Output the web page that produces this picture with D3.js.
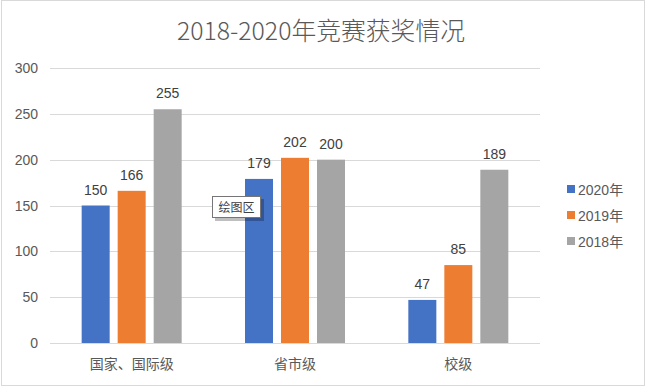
<!DOCTYPE html>
<html>
<head>
<meta charset="utf-8">
<script src="https://cdn.jsdelivr.net/npm/d3@7.9.0/dist/d3.min.js"></script>
<style>
  body { margin: 0; background: #fff; }
  svg { display: block; }
</style>
</head>
<body>
<svg id="chart" width="646" height="388"></svg>
<script>
// chart data
const categories = ['国家、国际级', '省市级', '校级'];
const seriesNames = ['2020年', '2019年', '2018年'];
const seriesColors = ['#4472C4', '#ED7D31', '#A5A5A5'];
const values2020 = [150, 179, 47];
const values2019 = [166, 202, 85];
const values2018 = [255, 200, 189];
const yTicks = [0, 50, 100, 150, 200, 250, 300];

const seriesValues = [values2020, values2019, values2018];

const svg = d3.select('#chart');
const W = 646, H = 388;
const plot = { left: 50, right: 540, top: 68, bottom: 343 };

// outer border
svg.append('rect')
  .attr('x', 1.5).attr('y', 0.5)
  .attr('width', W - 3).attr('height', H - 3)
  .attr('fill', '#fff')
  .attr('stroke', '#d9d9d9');

// title
svg.append('text')
  .attr('x', 321).attr('y', 40)
  .attr('text-anchor', 'middle')
  .attr('font-family', '"Noto Sans CJK SC", sans-serif')
  .attr('font-size', 24.8)
  .attr('font-weight', 300)
  .attr('fill', '#595959')
  .text('2018-2020年竞赛获奖情况');

const y = d3.scaleLinear().domain([0, 300]).range([plot.bottom, plot.top]);
const x = d3.scaleBand().domain(categories).range([plot.left, plot.right]).padding(0);
const xs = d3.scaleBand().domain(seriesNames).range([-50, 50]).paddingInner(8 / 36).paddingOuter(0);

// gridlines
svg.append('g')
  .selectAll('line')
  .data(yTicks)
  .join('line')
  .attr('x1', plot.left).attr('x2', plot.right)
  .attr('y1', d => Math.round(y(d)) + 0.5)
  .attr('y2', d => Math.round(y(d)) + 0.5)
  .attr('stroke', '#d9d9d9')
  .attr('stroke-width', 1);

// y tick labels
svg.append('g')
  .selectAll('text')
  .data(yTicks)
  .join('text')
  .attr('x', 38)
  .attr('y', d => y(d) + 5)
  .attr('text-anchor', 'end')
  .attr('font-family', '"Liberation Sans", Arial, sans-serif')
  .attr('font-size', 14)
  .attr('fill', '#595959')
  .text(d => d);

// bars + labels
seriesNames.forEach((name, si) => {
  const g = svg.append('g');
  g.selectAll('rect')
    .data(categories)
    .join('rect')
    .attr('x', c => x(c) + x.bandwidth() / 2 + xs(name))
    .attr('y', (c, i) => y(seriesValues[si][i]))
    .attr('width', xs.bandwidth())
    .attr('height', (c, i) => y(0) - y(seriesValues[si][i]))
    .attr('fill', seriesColors[si]);
  g.selectAll('text')
    .data(categories)
    .join('text')
    .attr('x', c => x(c) + x.bandwidth() / 2 + xs(name) + xs.bandwidth() / 2)
    .attr('y', (c, i) => y(seriesValues[si][i]) - 11)
    .attr('text-anchor', 'middle')
    .attr('font-family', '"Liberation Sans", Arial, sans-serif')
    .attr('font-size', 14)
    .attr('fill', '#404040')
    .text((c, i) => seriesValues[si][i]);
});

// category labels
svg.append('g')
  .selectAll('text')
  .data(categories)
  .join('text')
  .attr('x', c => x(c) + x.bandwidth() / 2)
  .attr('y', 369)
  .attr('text-anchor', 'middle')
  .attr('font-family', '"Noto Sans CJK SC", sans-serif')
  .attr('font-size', 14)
  .attr('fill', '#595959')
  .text(c => c);

// legend
const legend = svg.append('g').attr('transform', 'translate(567,190)');
seriesNames.forEach((name, i) => {
  legend.append('rect')
    .attr('x', 0).attr('y', i * 26 - 5)
    .attr('width', 8).attr('height', 8)
    .attr('fill', seriesColors[i]);
  legend.append('text')
    .attr('x', 11).attr('y', i * 26 + 5)
    .attr('font-family', '"Liberation Sans", Arial, "Noto Sans CJK SC", sans-serif')
    .attr('font-size', 14)
    .attr('fill', '#595959')
    .text(name);
});

// hover tooltip "绘图区"
const tip = svg.append('g').attr('transform', 'translate(212,196)');
tip.append('rect')
  .attr('x', 3).attr('y', 3).attr('width', 49).attr('height', 22)
  .attr('fill', '#000').attr('opacity', 0.25);
tip.append('rect')
  .attr('x', 0.5).attr('y', 0.5).attr('width', 48).attr('height', 21)
  .attr('fill', '#fff').attr('stroke', '#767676');
tip.append('text')
  .attr('x', 24.5).attr('y', 16)
  .attr('text-anchor', 'middle')
  .attr('font-family', '"Noto Sans CJK SC", sans-serif')
  .attr('font-size', 12)
  .attr('fill', '#404040')
  .text('绘图区');
</script>
</body>
</html>
